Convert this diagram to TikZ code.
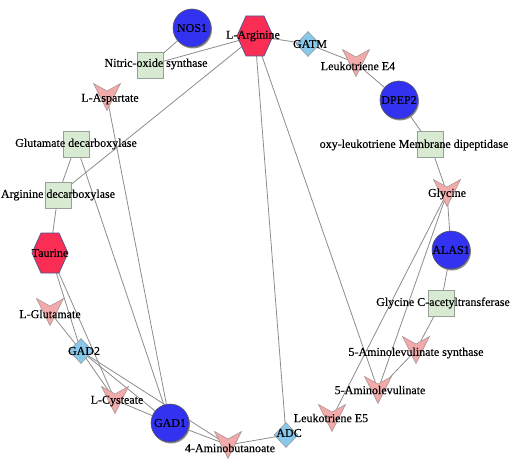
\documentclass[tikz,border=0pt]{standalone}
\usepackage{fontspec}
\setmainfont{Liberation Serif}
\newfontface\lblfont{Liberation Serif}[FakeBold=0.3]
\usetikzlibrary{shapes.geometric,backgrounds}
\definecolor{geneblue}{RGB}{50,50,240}
\definecolor{hexred}{RGB}{250,45,85}
\definecolor{hexborder}{RGB}{75,85,140}
\definecolor{vpink}{RGB}{242,170,170}
\definecolor{vborder}{RGB}{165,145,145}
\definecolor{dblue}{RGB}{135,200,235}
\definecolor{sgreen}{RGB}{217,234,211}
\definecolor{sborder}{RGB}{150,160,150}
\definecolor{edgegray}{RGB}{140,140,140}
\begin{document}
\begin{tikzpicture}[x=1pt,y=-1pt,
  lbl/.style={font=\lblfont\fontsize{12}{14}\selectfont, inner sep=0pt, text=black},
  gene/.style={circle, minimum size=38pt, inner sep=0pt, fill=geneblue, draw=gray!70!black, line width=0.6pt},
  gshadow/.style={circle, minimum size=38pt, inner sep=0pt, fill=black!45},
  hexa/.style={rectangle, minimum width=40pt, minimum height=44pt, inner sep=0pt,
    path picture={\filldraw[fill=hexred, draw=hexborder, line width=0.7pt]
      ([xshift=-18pt]path picture bounding box.center) --
      ([xshift=-9pt,yshift=20pt]path picture bounding box.center) --
      ([xshift=9pt,yshift=20pt]path picture bounding box.center) --
      ([xshift=18pt]path picture bounding box.center) --
      ([xshift=9pt,yshift=-20pt]path picture bounding box.center) --
      ([xshift=-9pt,yshift=-20pt]path picture bounding box.center) -- cycle;}},
  vee/.style={rectangle, minimum width=31pt, minimum height=31pt, inner sep=0pt,
    path picture={\filldraw[fill=vpink, draw=vborder, line width=0.5pt]
      ([xshift=-13.5pt,yshift=13.5pt]path picture bounding box.center) --
      ([yshift=6pt]path picture bounding box.center) --
      ([xshift=13.5pt,yshift=13.5pt]path picture bounding box.center) --
      ([yshift=-13.5pt]path picture bounding box.center) -- cycle;}},
  dia/.style={diamond, minimum width=24pt, minimum height=25pt, inner sep=0pt, fill=dblue, draw=gray!80, line width=0.6pt},
  sq/.style={rectangle, minimum size=26pt, inner sep=0pt, fill=sgreen, draw=sborder, line width=0.8pt},
  edge/.style={draw=edgegray, line width=0.8pt}
]
\useasboundingbox (0,0) rectangle (516,465);

% gene shadows
\node[gshadow] (NOS1s) at (193,29.5) {};
\node[gshadow] (DPEP2s) at (400,101.5) {};
\node[gshadow] (ALAS1s) at (452,251.5) {};
\node[gshadow] (GAD1s) at (171,424.5) {};

% genes
\node[gene] (NOS1) at (192,28) {};
\node[gene] (DPEP2) at (399,100) {};
\node[gene] (ALAS1) at (451,250) {};
\node[gene] (GAD1) at (170,423) {};

% hexagons
\node[hexa] (LArg) at (255,36) {};
\node[hexa] (Tau) at (50,253) {};

% enzymes
\node[sq] (NOS) at (150,65) {};
\node[sq] (MDP) at (430,144) {};
\node[sq] (GluDC) at (76,144) {};
\node[sq] (ArgDC) at (58,195) {};
\node[sq] (GCAT) at (441,303) {};

% diamonds
\node[dia] (GATM) at (308,44) {};
\node[dia] (GAD2) at (81,351) {};
\node[dia] (ADC) at (286,435) {};

% compounds
\node[vee] (LAsp) at (107,97) {};
\node[vee] (LTE4) at (356,63) {};
\node[vee] (Gly) at (447,193) {};
\node[vee] (LGlu) at (50,312) {};
\node[vee] (LCys) at (115,400) {};
\node[vee] (GABA) at (228,445) {};
\node[vee] (LTE5) at (332,418) {};
\node[vee] (ALA) at (378,390) {};
\node[vee] (ALAsyn) at (416,350) {};

\begin{scope}[on background layer]
\draw[edge] (NOS1) -- (NOS);
\draw[edge] (NOS.center) -- (LArg.center);
\draw[edge] (LArg.center) -- (GATM.center);
\draw[edge] (GATM.center) -- (LTE4.center);
\draw[edge] (LTE4.center) -- (DPEP2);
\draw[edge] (DPEP2) -- (MDP.center);
\draw[edge] (MDP.center) -- (Gly.center);
\draw[edge] (Gly.center) -- (ALAS1);
\draw[edge] (ALAS1) -- (GCAT.center);
\draw[edge] (GCAT.center) -- (ALAsyn.center);
\draw[edge] (ALAsyn.center) -- (ALA.center);
\draw[edge] (Gly.center) -- (ALA.center);
\draw[edge] (Gly.center) -- (LTE5.center);
\draw[edge] (LArg.center) -- (ALA.center);
\draw[edge] (LArg.center) -- (ADC.center);
\draw[edge] (LArg.center) -- (ArgDC.center);
\draw[edge] (GluDC.center) -- (ArgDC.center);
\draw[edge] (GluDC.center) -- (GAD1);
\draw[edge] (ArgDC.center) -- (Tau.center);
\draw[edge] (LAsp.center) -- (GAD1);
\draw[edge] (Tau.center) -- (GAD2.center);
\draw[edge] (Tau.center) -- (LCys.center);
\draw[edge] (LGlu.center) -- (GAD2.center);
\draw[edge] (GAD2.center) -- (LCys.center);
\draw[edge] (GAD2.center) -- (GAD1);
\draw[edge] (GAD2.center) -- (GABA.center);
\draw[edge] (LCys.center) -- (GAD1);
\draw[edge] (GAD1) -- (GABA.center);
\draw[edge] (GABA.center) -- (ADC.center);
\end{scope}

% labels
\node[lbl] (NOS1t) at (192,28) {NOS1};
\node[lbl] (DPEP2t) at (399,100) {DPEP2};
\node[lbl] (ALAS1t) at (451,250) {ALAS1};
\node[lbl] (GAD1t) at (170,423) {GAD1};
\node[lbl] (LArgt) at (253,36) {L-Arginine};
\node[lbl] (Taut) at (50,253) {Taurine};
\node[lbl] (NOSt) at (156,64) {Nitric-oxide synthase};
\node[lbl] (MDPt) at (414,145) {oxy-leukotriene Membrane dipeptidase};
\node[lbl] (GluDCt) at (76,144) {Glutamate decarboxylase};
\node[lbl] (ArgDCt) at (58,195) {Arginine decarboxylase};
\node[lbl] (GCATt) at (443,303) {Glycine C-acetyltransferase};
\node[lbl] (GATMt) at (310,44) {GATM};
\node[lbl] (GAD2t) at (84,351) {GAD2};
\node[lbl] (ADCt) at (289,433) {ADC};
\node[lbl] (LAspt) at (110,99) {L-Aspartate};
\node[lbl] (LTE4t) at (358,66) {Leukotriene E4};
\node[lbl] (Glyt) at (447,194) {Glycine};
\node[lbl] (LGlut) at (50,314) {L-Glutamate};
\node[lbl] (LCyst) at (117,401) {L-Cysteate};
\node[lbl] (GABAt) at (230,448) {4-Aminobutanoate};
\node[lbl] (LTE5t) at (331,418) {Leukotriene E5};
\node[lbl] (ALAt) at (380,390) {5-Aminolevulinate};
\node[lbl] (ALAsynt) at (416,353) {5-Aminolevulinate synthase};
\end{tikzpicture}
\end{document}
